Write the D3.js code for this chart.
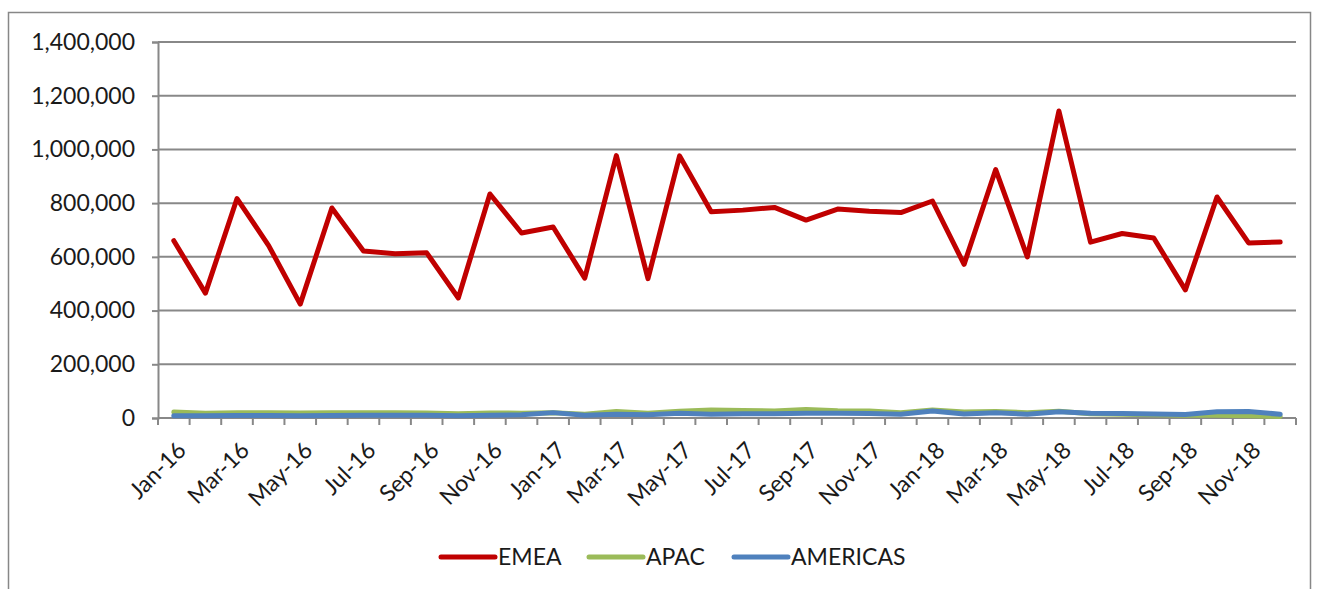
<!DOCTYPE html>
<html>
<head>
<meta charset="utf-8">
<script src="https://cdn.jsdelivr.net/npm/d3@7/dist/d3.min.js"></script>
<style>
  body { margin: 0; background: #fff; }
  text { font-family: Lato, "Open Sans", sans-serif; fill: #1a1a1a; }
</style>
</head>
<body>
<div id="chart"></div>
<script>
// monthly data Jan-16 .. Dec-18
var months = ["Jan-16","Feb-16","Mar-16","Apr-16","May-16","Jun-16","Jul-16","Aug-16","Sep-16","Oct-16","Nov-16","Dec-16",
  "Jan-17","Feb-17","Mar-17","Apr-17","May-17","Jun-17","Jul-17","Aug-17","Sep-17","Oct-17","Nov-17","Dec-17",
  "Jan-18","Feb-18","Mar-18","Apr-18","May-18","Jun-18","Jul-18","Aug-18","Sep-18","Oct-18","Nov-18","Dec-18"]

var emea = [660000, 465000, 817000, 642000, 424000, 782000, 622000, 612000, 615000, 447000, 834000, 689000,
  711000, 521000, 977000, 519000, 976000, 768000, 774000, 784000, 737000, 778000, 770000, 765000,
  808000, 572000, 925000, 600000, 1143000, 655000, 687000, 670000, 477000, 823000, 652000, 655000]

var apac = [22000, 18000, 20000, 20000, 19000, 20000, 20000, 20000, 19000, 16000, 19000, 18000,
  20000, 14000, 24000, 18000, 25000, 30000, 28000, 26000, 32000, 27000, 26000, 20000,
  30000, 22000, 24000, 20000, 25000, 16000, 14000, 12000, 10000, 10000, 8000, 6000]

var americas = [8000, 8000, 9000, 9000, 8000, 9000, 10000, 10000, 10000, 8000, 10000, 12000,
  20000, 10000, 14000, 12000, 18000, 14000, 16000, 16000, 18000, 18000, 17000, 14000,
  26000, 15000, 20000, 14000, 23000, 18000, 17000, 15000, 13000, 23000, 24000, 14000]

var yTicks = [0, 200000, 400000, 600000, 800000, 1000000, 1200000, 1400000]

var seriesNames = ["EMEA", "APAC", "AMERICAS"]
var seriesColors = ["#C00000", "#9BBB59", "#4F81BD"]
var seriesData = [emea, apac, americas]

var width = 1317, height = 589
var plotLeft = 158, plotRight = 1296, plotTop = 42, plotBottom = 418

var svg = d3.select("#chart").append("svg")
  .attr("width", width)
  .attr("height", height)

// outer chart border
svg.append("rect")
  .attr("x", 8.5).attr("y", 12.5)
  .attr("width", 1302).attr("height", 600)
  .attr("fill", "none")
  .attr("stroke", "#878787")
  .attr("stroke-width", 1.5)

var x = d3.scaleBand().domain(months).range([plotLeft, plotRight])
var y = d3.scaleLinear().domain([0, 1400000]).range([plotBottom, plotTop])

// gridlines
svg.append("g").selectAll("line")
  .data(yTicks.slice(1))
  .enter().append("line")
  .attr("x1", plotLeft).attr("x2", plotRight)
  .attr("y1", function (d) { return y(d) }).attr("y2", function (d) { return y(d) })
  .attr("stroke", "#888").attr("stroke-width", 2)

// y axis
var yAxis = svg.append("g")
  .attr("transform", "translate(" + plotLeft + ",0)")
  .call(d3.axisLeft(y).tickValues(yTicks).tickSize(6).tickPadding(17).tickFormat(d3.format(",")))
yAxis.select(".domain").attr("stroke", "#888").attr("stroke-width", 2)
yAxis.selectAll(".tick line").attr("stroke", "#888").attr("stroke-width", 2)
yAxis.selectAll("text").attr("font-size", 23).attr("fill", "#1a1a1a").attr("font-family", "Lato, sans-serif")

// x axis: ticks at band boundaries
var boundaries = months.map(function (m) { return x(m) }).concat([plotRight])
var xAxisG = svg.append("g")
xAxisG.append("line")
  .attr("x1", plotLeft).attr("x2", plotRight)
  .attr("y1", plotBottom).attr("y2", plotBottom)
  .attr("stroke", "#888").attr("stroke-width", 2)
xAxisG.selectAll(".xt")
  .data(boundaries)
  .enter().append("line")
  .attr("class", "xt")
  .attr("x1", function (d) { return d }).attr("x2", function (d) { return d })
  .attr("y1", plotBottom).attr("y2", plotBottom + 7)
  .attr("stroke", "#888").attr("stroke-width", 2)

xAxisG.selectAll(".xl")
  .data(months.filter(function (m, i) { return i % 2 === 0 }))
  .enter().append("text")
  .attr("class", "xl")
  .attr("text-anchor", "end")
  .attr("font-size", 23)
  .attr("transform", function (d) {
    return "translate(" + (x(d) + x.bandwidth() / 2 + 8) + "," + (plotBottom + 28) + ") rotate(-45)"
  })
  .attr("dy", "0.35em")
  .text(function (d) { return d })

// lines
var line = d3.line()
  .x(function (d, i) { return x(months[i]) + x.bandwidth() / 2 })
  .y(function (d) { return y(d) })

svg.append("g").selectAll("path")
  .data(seriesData)
  .enter().append("path")
  .attr("d", function (d) { return line(d) })
  .attr("fill", "none")
  .attr("stroke", function (d, i) { return seriesColors[i] })
  .attr("stroke-width", 5)
  .attr("stroke-linejoin", "round")
  .attr("stroke-linecap", "round")

// legend
var legendX = [441, 589, 734]
var legend = svg.append("g").selectAll("g")
  .data(seriesNames)
  .enter().append("g")
  .attr("transform", function (d, i) { return "translate(" + legendX[i] + ",557)" })
legend.append("line")
  .attr("x1", 0).attr("x2", 54)
  .attr("stroke", function (d, i) { return seriesColors[i] })
  .attr("stroke-width", 5)
  .attr("stroke-linecap", "round")
legend.append("text")
  .attr("x", 57).attr("dy", "0.35em")
  .attr("font-size", 23)
  .text(function (d) { return d })
</script>
</body>
</html>
